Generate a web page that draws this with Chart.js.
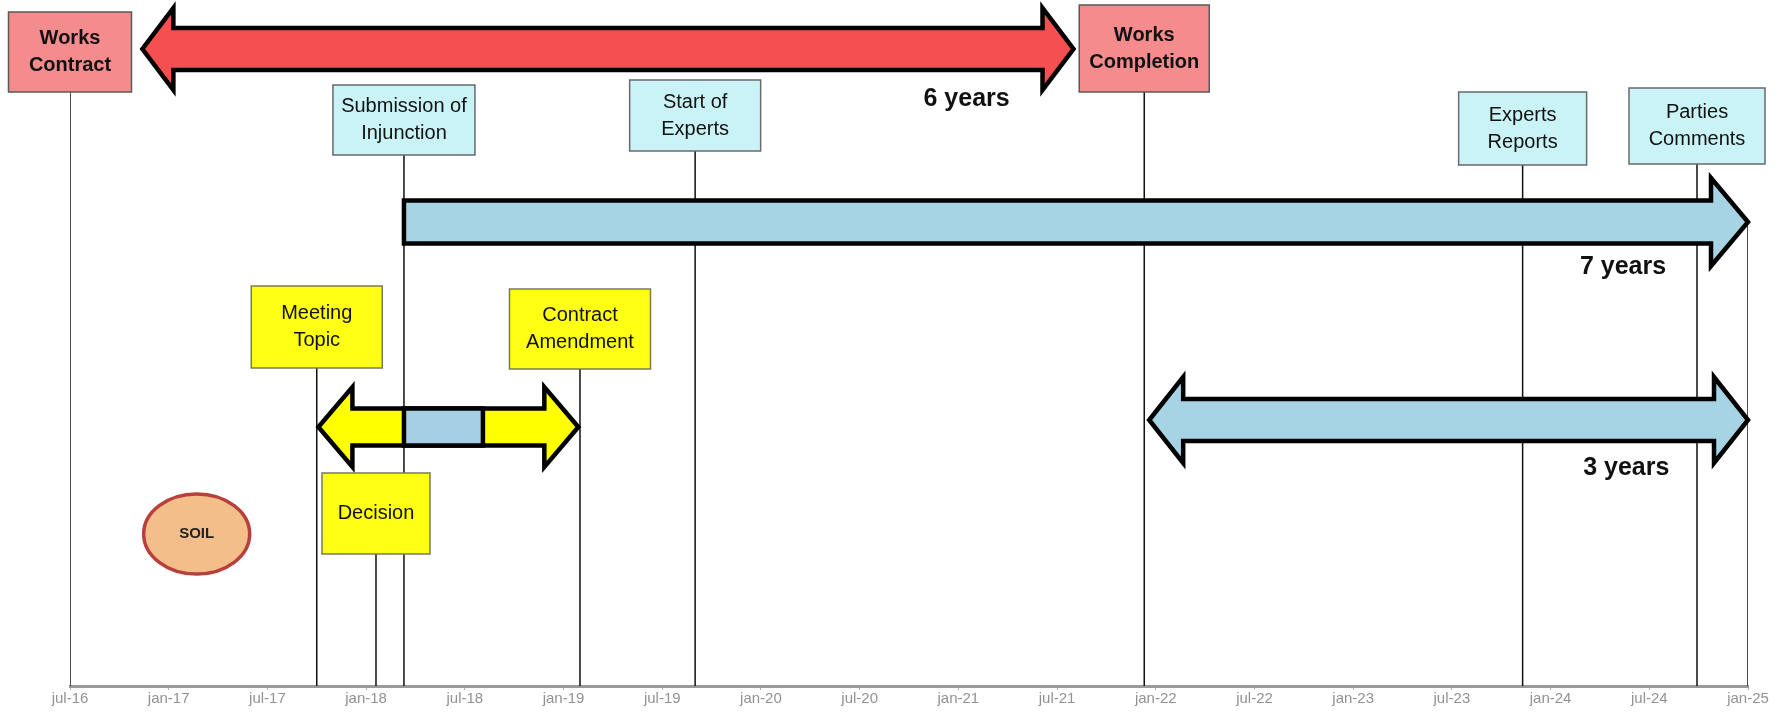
<!DOCTYPE html>
<html>
<head>
<meta charset="utf-8">
<script src="https://cdn.jsdelivr.net/npm/chart.js@4/dist/chart.umd.min.js"></script>
<style>
  html, body { margin: 0; padding: 0; background: #fff; }
  #wrap { width: 1778px; height: 724px; position: relative; }
</style>
</head>
<body>
<div id="wrap"><canvas id="timeline"></canvas></div>
<script>
// x values are months counted from jul-16
const tickLabels = ['jul-16','jan-17','jul-17','jan-18','jul-18','jan-19','jul-19','jan-20','jul-20',
                    'jan-21','jul-21','jan-22','jul-22','jan-23','jul-23','jan-24','jul-24','jan-25'];

const eventLabels = ['Works\nContract', 'Submission of\nInjunction', 'Start of\nExperts', 'Works\nCompletion',
                     'Experts\nReports', 'Parties\nComments', 'Meeting\nTopic', 'Contract\nAmendment', 'Decision'];
const eventMonths = [0, 20.3, 38, 65.3, 88.3, 98.9, 15, 31, 18.6];
const eventKind = ['works', 'expert', 'expert', 'works', 'expert', 'expert', 'meeting', 'meeting', 'meeting'];

const spanLabels = ['6 years', '7 years', '3 years'];
const spanStart = [4.4, 20.3, 65.6];
const spanEnd = [61, 102, 102];
const meetingSpan = [15.1, 30.9];
const injunctionSpan = [20.3, 25.1];
const endMonth = 102;

// layout (pixels on the reversed y scale)
const AXIS_Y = 686;
const boxLayout = [
    { top: 12, bottom: 92, w: 123 },
    { top: 85, bottom: 155, w: 142 },
    { top: 80, bottom: 151, w: 131 },
    { top: 5, bottom: 92, w: 130 },
    { top: 92, bottom: 165, w: 128 },
    { top: 88, bottom: 164, w: 136 },
    { top: 286, bottom: 368, w: 131 },
    { top: 289, bottom: 369, w: 141 },
    { top: 473, bottom: 554, w: 108 }
];
const boxStyle = {
    works:   { fill: '#F48B8C', stroke: '#5a5a5a', font: 'bold 20px "Liberation Sans", Arial' },
    expert:  { fill: '#C9F3F6', stroke: '#6a6a6a', font: '20px "Liberation Sans", Arial' },
    meeting: { fill: '#FFFF14', stroke: '#7a7a5a', font: '20px "Liberation Sans", Arial' }
};
const spanLayout = [
    { cy: 49, shaft: 21, head: 41, headLen: 31, left: true, right: true, fill: '#F5504F', textX: 54.5, textY: 99 },
    { cy: 222, shaft: 21.5, head: 44, headLen: 37, left: false, right: true, fill: '#A7D4E4', textX: 94.4, textY: 267 },
    { cy: 420, shaft: 21, head: 43, headLen: 34, left: true, right: true, fill: '#A7D4E4', textX: 94.6, textY: 468 }
];
const meetingLayout = { cy: 427, shaft: 18.5, head: 40, headLen: 34, fill: '#FFFF00', inner: '#A7CFE3' };
const soil = { label: 'SOIL', month: 7.7, y: 534, rx: 53, ry: 40 };

// vertical event lines as datasets
const lineSets = eventMonths.map((m, i) => ({
    data: [{ x: m, y: boxLayout[i].bottom }, { x: m, y: AXIS_Y }],
    showLine: true, borderColor: '#111', borderWidth: 1.5, pointRadius: 0
}));
lineSets.push({
    data: [{ x: endMonth, y: spanLayout[1].cy }, { x: endMonth, y: AXIS_Y }],
    showLine: true, borderColor: '#111', borderWidth: 1.5, pointRadius: 0
});

function arrowPath(ctx, x1, x2, cy, s, h, hl, left, right) {
    ctx.beginPath();
    const a = left ? x1 + hl : x1;
    const b = right ? x2 - hl : x2;
    ctx.moveTo(a, cy - s);
    ctx.lineTo(b, cy - s);
    if (right) { ctx.lineTo(b, cy - h); ctx.lineTo(x2, cy); ctx.lineTo(b, cy + h); }
    ctx.lineTo(b, cy + s);
    ctx.lineTo(a, cy + s);
    if (left) { ctx.lineTo(a, cy + h); ctx.lineTo(x1, cy); ctx.lineTo(a, cy - h); }
    ctx.closePath();
}

const timelinePlugin = {
    id: 'timelineShapes',
    afterDatasetsDraw(chart) {
        const ctx = chart.ctx;
        const xs = chart.scales.x, ys = chart.scales.y;
        ctx.save();
        ctx.lineJoin = 'miter';

        // duration arrows
        spanStart.forEach((s, i) => {
            const L = spanLayout[i];
            const cy = ys.getPixelForValue(L.cy);
            arrowPath(ctx, xs.getPixelForValue(s), xs.getPixelForValue(spanEnd[i]), cy, L.shaft, L.head, L.headLen, L.left, L.right);
            ctx.fillStyle = L.fill;
            ctx.fill();
            ctx.lineWidth = 4.5;
            ctx.strokeStyle = '#000';
            ctx.stroke();
            ctx.fillStyle = '#111';
            ctx.font = 'bold 25px "Liberation Sans", Arial';
            ctx.textAlign = 'center';
            ctx.textBaseline = 'middle';
            ctx.fillText(spanLabels[i], xs.getPixelForValue(L.textX), ys.getPixelForValue(L.textY));
        });

        // meeting arrow with injunction period inside
        const M = meetingLayout;
        const my = ys.getPixelForValue(M.cy);
        arrowPath(ctx, xs.getPixelForValue(meetingSpan[0]), xs.getPixelForValue(meetingSpan[1]), my, M.shaft, M.head, M.headLen, true, true);
        ctx.fillStyle = M.fill;
        ctx.fill();
        ctx.lineWidth = 4.5;
        ctx.strokeStyle = '#000';
        ctx.stroke();
        const ix1 = xs.getPixelForValue(injunctionSpan[0]), ix2 = xs.getPixelForValue(injunctionSpan[1]);
        ctx.fillStyle = M.inner;
        ctx.fillRect(ix1, my - M.shaft, ix2 - ix1, M.shaft * 2);
        ctx.strokeRect(ix1, my - M.shaft, ix2 - ix1, M.shaft * 2);

        // event boxes
        eventMonths.forEach((m, i) => {
            const B = boxLayout[i];
            const st = boxStyle[eventKind[i]];
            const cx = xs.getPixelForValue(m);
            const top = ys.getPixelForValue(B.top), bot = ys.getPixelForValue(B.bottom);
            ctx.fillStyle = st.fill;
            ctx.fillRect(cx - B.w / 2, top, B.w, bot - top);
            ctx.lineWidth = 1.5;
            ctx.strokeStyle = st.stroke;
            ctx.strokeRect(cx - B.w / 2, top, B.w, bot - top);
            ctx.fillStyle = '#111';
            ctx.font = st.font;
            ctx.textAlign = 'center';
            ctx.textBaseline = 'middle';
            const lines = eventLabels[i].split('\n');
            const mid = (top + bot) / 2;
            lines.forEach((t, k) => {
                ctx.fillText(t, cx, mid + (k - (lines.length - 1) / 2) * 27);
            });
        });

        // soil marker
        const sx = xs.getPixelForValue(soil.month), sy = ys.getPixelForValue(soil.y);
        ctx.beginPath();
        ctx.ellipse(sx, sy, soil.rx, soil.ry, 0, 0, Math.PI * 2);
        ctx.fillStyle = '#F4BE8A';
        ctx.fill();
        ctx.lineWidth = 3.5;
        ctx.strokeStyle = '#B8403C';
        ctx.stroke();
        ctx.fillStyle = '#222';
        ctx.font = 'bold 15px "Liberation Sans", Arial';
        ctx.fillText(soil.label, sx, sy);

        ctx.restore();
    }
};

new Chart(document.getElementById('timeline'), {
    type: 'scatter',
    data: { datasets: lineSets },
    plugins: [timelinePlugin],
    options: {
        responsive: true,
        maintainAspectRatio: false,
        animation: false,
        layout: { padding: { left: 70, right: 30, top: 0, bottom: 16 } },
        plugins: { legend: { display: false }, tooltip: { enabled: false } },
        scales: {
            x: {
                type: 'linear',
                min: 0,
                max: 102,
                border: { display: true, color: '#9a9a9a', width: 3 },
                grid: { display: true, drawOnChartArea: false, drawTicks: true, tickLength: 4, color: '#b0b0b0' },
                ticks: {
                    stepSize: 6,
                    padding: 0,
                    color: '#929292',
                    font: { family: '"Liberation Sans", Arial', size: 15 },
                    maxRotation: 0,
                    autoSkip: false,
                    callback: (v) => tickLabels[v / 6]
                }
            },
            y: { type: 'linear', display: false, min: 0, max: AXIS_Y, reverse: true }
        }
    }
});
</script>
</body>
</html>
